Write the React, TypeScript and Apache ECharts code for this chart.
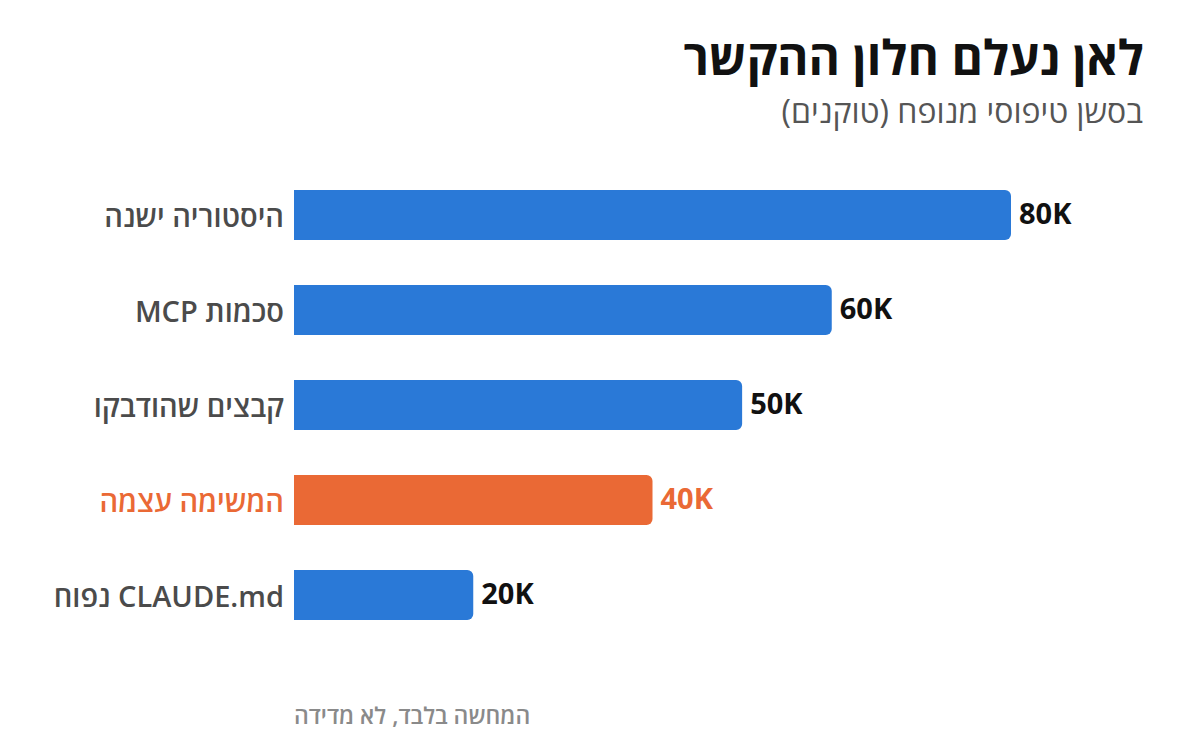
import React, { useEffect, useRef } from "react";
import * as echarts from "echarts";

// Token usage per context component (top to bottom)
const categories = [
  "היסטוריה ישנה",
  "סכמות MCP",
  "קבצים שהודבקו",
  "המשימה עצמה",
  "CLAUDE.md נפוח",
];
const tokens = [80000, 60000, 50000, 40000, 20000];
const highlightIndex = 3;

const titleText = "לאן נעלם חלון ההקשר";
const subtitleText = "בסשן טיפוסי מנופח (טוקנים)";
const footnoteText = "המחשה בלבד, לא מדידה";

const BLUE = "#2a79d7";
const ORANGE = "#ea6935";
const FONT = "'Open Sans', 'DejaVu Sans', sans-serif";

// Wrap mixed Hebrew/Latin strings in a right-to-left embedding
const rtl = (s: string) => `\u202B${s}\u202C`;

export default function App() {
  const ref = useRef<HTMLDivElement>(null);

  useEffect(() => {
    document.body.style.margin = "0";
    if (!ref.current) return;
    const chart = echarts.init(ref.current, undefined, { renderer: "svg" });

    const fmt = (v: number) => `${Math.round(v / 1000)}K`;

    chart.setOption({
      animation: false,
      backgroundColor: "#ffffff",
      title: [
        {
          text: titleText,
          right: 51,
          top: 27,
          textStyle: {
            fontFamily: FONT,
            fontSize: 48,
            fontWeight: "bold",
            color: "#111111",
          },
        },
        {
          text: subtitleText,
          right: 52,
          top: 89,
          textStyle: {
            fontFamily: FONT,
            fontSize: 32,
            fontWeight: "normal",
            color: "#555555",
          },
        },
      ],
      grid: {
        left: 294,
        width: 717,
        top: 167.5,
        height: 475,
        containLabel: false,
      },
      xAxis: {
        type: "value",
        min: 0,
        max: 80000,
        show: false,
      },
      yAxis: {
        type: "category",
        data: categories,
        inverse: true,
        axisLine: { show: false },
        axisTick: { show: false },
        splitLine: { show: false },
        axisLabel: {
          margin: 10,
          fontFamily: FONT,
          fontSize: 29,
          fontWeight: 600,
          formatter: (v: string) => rtl(v),
          color: (_v: string, i: number) =>
            i === highlightIndex ? ORANGE : "#4b4b4b",
        },
      },
      series: [
        {
          type: "bar",
          barWidth: 50,
          data: tokens.map((v, i) => ({
            value: v,
            itemStyle: {
              color: i === highlightIndex ? ORANGE : BLUE,
              borderRadius: [0, 6, 6, 0],
            },
            label: {
              color: i === highlightIndex ? ORANGE : "#111111",
            },
          })),
          label: {
            show: true,
            position: "right",
            distance: 8,
            offset: [0, -3],
            fontFamily: FONT,
            fontSize: 29,
            fontWeight: "bold",
            formatter: (p: any) => fmt(p.value),
          },
        },
      ],
      graphic: [
        {
          type: "text",
          left: 294,
          top: 703,
          style: {
            text: footnoteText,
            fontFamily: FONT,
            fontSize: 23,
            fontWeight: 600,
            fill: "#8a8a8a",
          },
        },
      ],
    });

    return () => chart.dispose();
  }, []);

  return <div ref={ref} style={{ width: 1200, height: 750 }} />;
}
